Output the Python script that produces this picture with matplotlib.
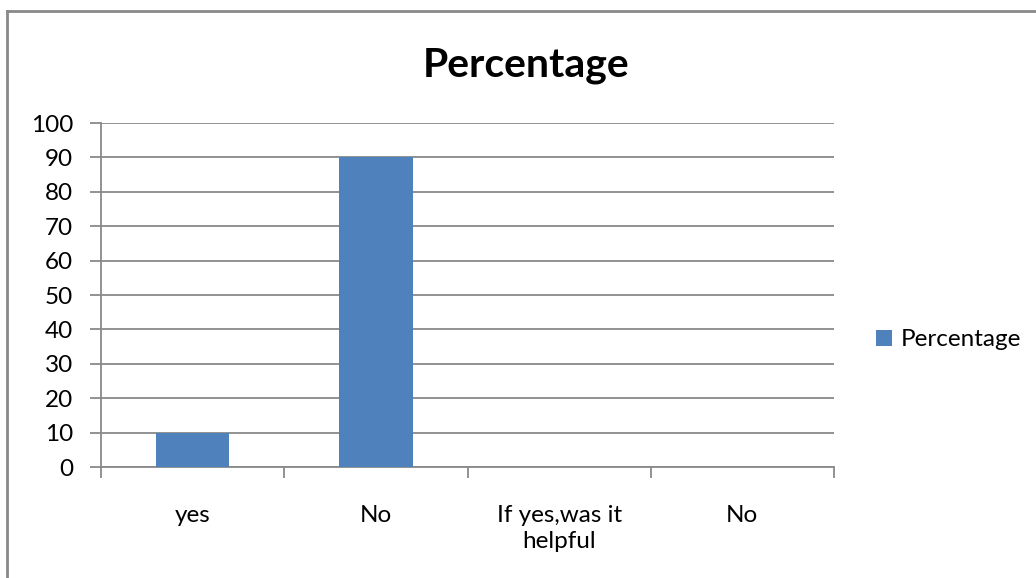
import matplotlib
matplotlib.use("Agg")
import matplotlib.pyplot as plt
from matplotlib.lines import Line2D

categories = ["yes", "No", "If yes,was it\nhelpful", "No"]
percentage = [10, 90, 0, 0]
y_ticks = [0, 10, 20, 30, 40, 50, 60, 70, 80, 90, 100]

plt.rcParams['font.family'] = ['Lato', 'DejaVu Sans']
bar_color = "#4F81BD"
grid_color = "#898989"
label_size = 17.5

W, H = 1036, 578
fig = plt.figure(figsize=(W / 100, H / 100), dpi=100)
ax = fig.add_axes([101 / W, 1 - 467 / H, (834 - 101) / W, (467 - 123) / H])

x = list(range(len(categories)))
ax.bar(x, percentage, width=0.4, color=bar_color, zorder=3, label="Percentage")

ax.set_xlim(-0.5, len(categories) - 0.5)
ax.set_ylim(0, 100)
ax.set_yticks(y_ticks)
ax.set_yticklabels([str(v) for v in y_ticks])
ax.yaxis.grid(True, color=grid_color, linewidth=1.3, zorder=0)

# category boundary ticks below the axis, names centred between them
ax.set_xticks([i - 0.5 for i in range(len(categories) + 1)])
ax.set_xticklabels([])
ax.set_xticks(x, minor=True)
ax.set_xticklabels(categories, minor=True, linespacing=1.3)
ax.tick_params(axis="x", which="minor", length=0, pad=27, labelsize=label_size)
ax.tick_params(axis="x", which="major", length=8, width=1.3, color=grid_color)
ax.tick_params(axis="y", length=8, width=1.3, color=grid_color,
               labelsize=label_size, pad=12)

for side in ["top", "right"]:
    ax.spines[side].set_visible(False)
for side in ["left", "bottom"]:
    ax.spines[side].set_color(grid_color)
    ax.spines[side].set_linewidth(1.3)

fig.text(526 / W, 1 - 65 / H, "Percentage", ha="center", va="center",
         fontsize=29.5, fontweight="bold")

ax.legend(loc="center left", bbox_to_anchor=(869 / W, 1 - 340 / H),
          bbox_transform=fig.transFigure, frameon=False, fontsize=label_size,
          handlelength=0.65, handleheight=0.65, handletextpad=0.35,
          borderaxespad=0, borderpad=0.3)

# outer chart frame (top and left edges)
fig.add_artist(Line2D([7 / W, 7 / W], [0, 1 - 11 / H], transform=fig.transFigure,
                      color=grid_color, linewidth=2))
fig.add_artist(Line2D([7 / W, 1], [1 - 11 / H, 1 - 11 / H], transform=fig.transFigure,
                      color=grid_color, linewidth=2))

fig.savefig("out.png", dpi=100)
